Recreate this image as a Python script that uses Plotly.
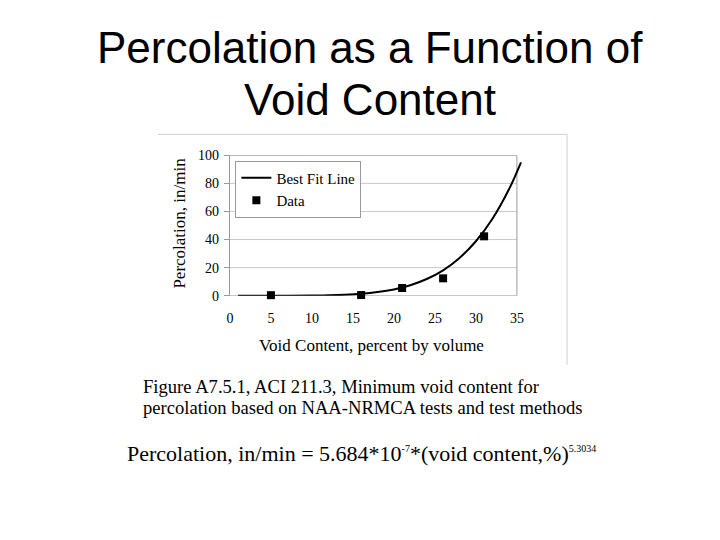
import plotly.graph_objects as go

# Data
data_x = [5, 16, 21, 26, 31]
data_y = [0.4, 0.5, 5.5, 12.4, 42.3]

# Best-fit curve points
fit_x = [1, 5, 10, 12, 14, 16, 18, 20, 22, 24, 26, 28, 30, 32, 34, 35.5]
fit_y = [0.0, 0.0, 0.11, 0.3, 0.68, 1.38, 2.6, 4.5, 7.5, 11.9, 18.1, 26.9, 38.8, 54.6, 75.4, 95]

x_ticks = [0, 5, 10, 15, 20, 25, 30, 35]
y_ticks = [0, 20, 40, 60, 80, 100]

W, H = 720, 540
serif = "Liberation Serif, Times New Roman, serif"
sans = "Liberation Sans, Arial, sans-serif"

X_MAX = 35
X_EXT = 35.7          # a little room so the curve can run past the frame
LEFT, RIGHT = 227.5, 516.5
RIGHT_EXT = LEFT + (RIGHT - LEFT) * X_EXT / X_MAX
TOP, BOTTOM = 152.5, 297

def px(x):
    return x / W

def py(y):
    return 1 - y / H

fig = go.Figure()
fig.add_trace(go.Scatter(x=fit_x, y=fit_y, mode="lines", name="Best Fit Line",
                         line=dict(color="black", width=2, shape="spline"),
                         cliponaxis=False))
fig.add_trace(go.Scatter(x=data_x, y=data_y, mode="markers", name="Data",
                         marker=dict(symbol="square", size=8, color="black"),
                         cliponaxis=False))

fig.update_layout(
    width=W, height=H,
    margin=dict(l=0, r=0, t=0, b=0),
    paper_bgcolor="white", plot_bgcolor="rgba(0,0,0,0)",
    font=dict(family=serif, size=14, color="black"),
    showlegend=True,
    legend=dict(x=px(233), y=py(158), xanchor="left", yanchor="top",
                bgcolor="white", bordercolor="#999999", borderwidth=1,
                font=dict(family=serif, size=15, color="black"),
                itemwidth=30, tracegroupgap=0),
    xaxis=dict(domain=[px(LEFT), px(RIGHT_EXT)], range=[0, X_EXT],
               tickvals=x_ticks, ticktext=[str(v) for v in x_ticks],
               showgrid=False, zeroline=False, showline=False,
               ticks="", ticklen=0, ticklabelstandoff=12,
               tickfont=dict(family=serif, size=14, color="black")),
    yaxis=dict(domain=[py(BOTTOM), py(TOP)], range=[0, 100],
               tickvals=y_ticks, ticktext=[str(v) for v in y_ticks],
               showgrid=False, zeroline=False,
               showline=True, linecolor="#9a9a9a", linewidth=1,
               ticks="outside", ticklen=5, tickcolor="#9a9a9a",
               ticklabelstandoff=2,
               tickfont=dict(family=serif, size=14, color="black")),
)

# Horizontal gridlines (stopping at the frame, x = 35)
for v in y_ticks[1:]:
    fig.add_shape(type="line", xref="x", yref="y", x0=0, x1=X_MAX, y0=v, y1=v,
                  line=dict(color="#c8c8c8", width=1), layer="below")
# Plot frame: bottom axis, top and right borders
fig.add_shape(type="line", xref="x", yref="y", x0=0, x1=X_MAX, y0=0, y1=0,
              line=dict(color="#9a9a9a", width=1), layer="below")
fig.add_shape(type="line", xref="x", yref="y", x0=0, x1=X_MAX, y0=100, y1=100,
              line=dict(color="#9a9a9a", width=1), layer="below")
fig.add_shape(type="line", xref="x", yref="y", x0=X_MAX, x1=X_MAX, y0=0, y1=100,
              line=dict(color="#9a9a9a", width=1), layer="below")

# Outer figure frame (light)
fig.add_shape(type="line", xref="paper", yref="paper", x0=px(155), x1=px(567),
              y0=py(131), y1=py(131), line=dict(color="#d0d0d0", width=1))
fig.add_shape(type="line", xref="paper", yref="paper", x0=px(567), x1=px(567),
              y0=py(131), y1=py(368), line=dict(color="#d0d0d0", width=1))

# Axis titles
fig.add_annotation(xref="paper", yref="paper", x=px(370), y=py(348),
                   text="Void Content, percent by volume", showarrow=False,
                   xanchor="center", yanchor="middle",
                   font=dict(family=serif, size=17, color="black"))
fig.add_annotation(xref="paper", yref="paper", x=px(177), y=py(222),
                   text="Percolation, in/min", showarrow=False, textangle=-90,
                   xanchor="center", yanchor="middle",
                   font=dict(family=serif, size=17, color="black"))

# Slide title
fig.add_annotation(xref="paper", yref="paper", x=px(369), y=py(42),
                   text="Percolation as a Function of", showarrow=False,
                   xanchor="center", yanchor="middle",
                   font=dict(family=sans, size=44, color="black"))
fig.add_annotation(xref="paper", yref="paper", x=px(369), y=py(95),
                   text="Void Content", showarrow=False,
                   xanchor="center", yanchor="middle",
                   font=dict(family=sans, size=44, color="black"))

# Caption
fig.add_annotation(xref="paper", yref="paper", x=px(138), y=py(390),
                   text="Figure A7.5.1, ACI 211.3, Minimum void content for",
                   showarrow=False, xanchor="left", yanchor="middle",
                   font=dict(family=serif, size=18.6, color="black"))
fig.add_annotation(xref="paper", yref="paper", x=px(138), y=py(412),
                   text="percolation based on NAA-NRMCA tests and test methods",
                   showarrow=False, xanchor="left", yanchor="middle",
                   font=dict(family=serif, size=18.6, color="black"))

# Formula
fig.add_annotation(xref="paper", yref="paper", x=px(122), y=py(459),
                   text=("Percolation, in/min = 5.684*10"
                         "<sup><span style='font-size:10px'>-7</span></sup>"
                         "*(void content,%)"
                         "<sup><span style='font-size:10px'>5.3034</span></sup>"),
                   showarrow=False, xanchor="left", yanchor="middle",
                   font=dict(family=serif, size=22, color="black"))

fig.write_html("out.html")
